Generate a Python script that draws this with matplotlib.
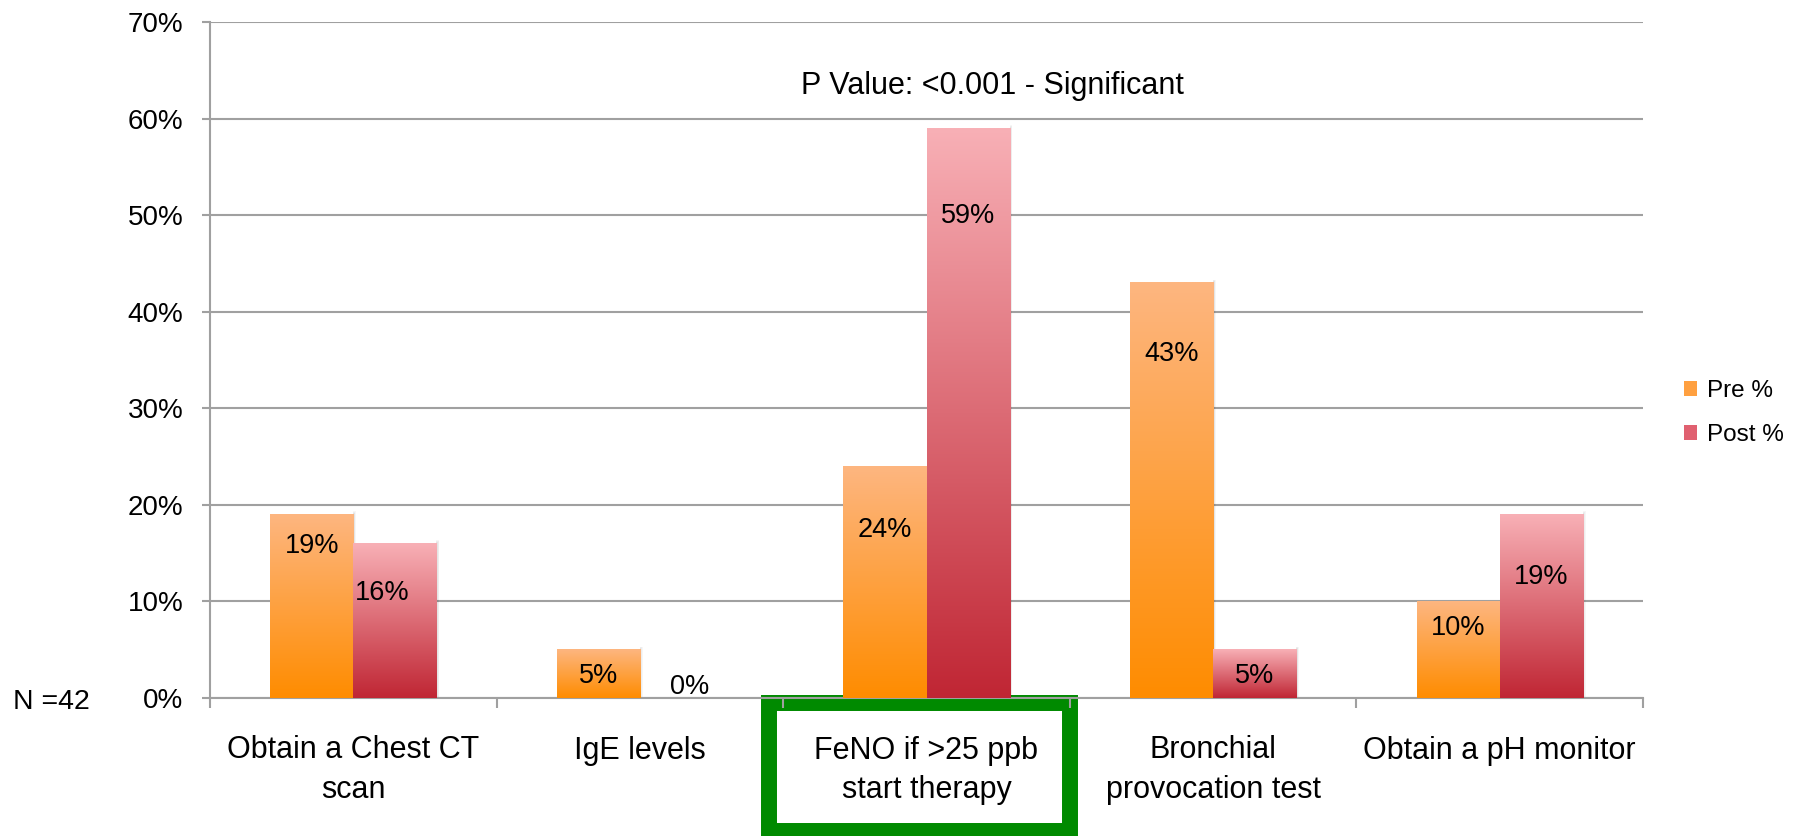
import numpy as np
import matplotlib.pyplot as plt
from matplotlib.patches import Rectangle, Patch
from matplotlib.colors import to_rgb

plt.rcParams['font.family'] = ['Liberation Sans', 'DejaVu Sans']

categories = ['Obtain a Chest CT\nscan', 'IgE levels', 'FeNO if >25 ppb\nstart therapy',
              'Bronchial\nprovocation test', 'Obtain a pH monitor']
pre = [19, 5, 24, 43, 10]
post = [16, 0, 59, 5, 19]
series_names = ['Pre %', 'Post %']
# where each value label sits (in % units) and its sideways nudge (category units)
pre_label_y = [15.75, 2.25, 17.35, 35.65, 7.2]
post_label_y = [10.85, 1.1, 49.95, 2.25, 12.55]
post_label_dx = [-0.044, 0.028, 0, 0, 0]

pre_colors = ('#fdb680', '#ff8c00')   # top, bottom
post_colors = ('#f8b0b6', '#c02634')
grid_c = '#a0a0a0'

fig = plt.figure(figsize=(18, 8.36), dpi=100)
ax = fig.add_axes([210 / 1800, 1 - 698 / 836, (1643 - 210) / 1800, (698 - 22) / 836])
ax.set_facecolor('none')

x = np.arange(len(categories))
w = 0.29


def gradient_bar(rect, top, bottom):
    x0, h, bw = rect.get_x(), rect.get_height(), rect.get_width()
    if h <= 0:
        return
    t = np.linspace(0, 1, 256)[:, None, None]
    img = np.array(to_rgb(bottom))[None, None, :] * (1 - t) + np.array(to_rgb(top))[None, None, :] * t
    # soft shadow to the right
    for i in range(1, 5):
        ax.add_patch(Rectangle((x0 + bw, 0), 0.0025 * i, h + 0.08 * i, color='k',
                               alpha=0.035, lw=0, zorder=2))
    ax.imshow(img, extent=[x0, x0 + bw, 0, h], origin='lower', aspect='auto', zorder=3,
              interpolation='bilinear')


bars_pre = ax.bar(x - w / 2, pre, w, color='none', zorder=3)
bars_post = ax.bar(x + w / 2, post, w, color='none', zorder=3)
for r in bars_pre:
    gradient_bar(r, *pre_colors)
for r in bars_post:
    gradient_bar(r, *post_colors)

for i in range(len(categories)):
    ax.text(x[i] - w / 2, pre_label_y[i], f'{pre[i]}%', ha='center', va='center',
            fontsize=19.5, zorder=5)
    ax.text(x[i] + w / 2 + post_label_dx[i], post_label_y[i], f'{post[i]}%', ha='center',
            va='center', fontsize=19.5, zorder=5)

ax.set_xlim(-0.5, len(categories) - 0.5)
ax.set_ylim(0, 70)
ax.set_yticks(range(0, 71, 10))
ax.set_yticklabels([f'{v}%' for v in range(0, 71, 10)])
ax.yaxis.grid(True, color=grid_c, lw=1.5)
ax.set_axisbelow(True)

ax.set_xticks(x)
ax.set_xticklabels(categories, fontsize=22, linespacing=1.4)
ax.set_xticks(np.arange(-0.5, len(categories)), minor=True)
ax.tick_params(axis='x', which='major', length=0, pad=27)
ax.tick_params(axis='x', which='minor', length=7, width=1.5, color=grid_c)
ax.tick_params(axis='y', length=6, width=1.5, color=grid_c, labelsize=20, pad=13)

for s in ['top', 'right']:
    ax.spines[s].set_visible(False)
for s in ['left', 'bottom']:
    ax.spines[s].set_color(grid_c)
    ax.spines[s].set_linewidth(1.5)

ax.text(0.5457, 63.35, 'P Value: <0.001 - Significant', transform=ax.get_yaxis_transform(),
        ha='center', va='center', fontsize=22)
fig.text(13 / 1800, 1 - 702 / 836, 'N =42', ha='left', va='center', fontsize=20.5)

handles = [Patch(facecolor='#ffa040', label=series_names[0]),
           Patch(facecolor='#e06070', label=series_names[1])]
fig.legend(handles=handles, loc='center left', bbox_to_anchor=(1662 / 1800, 1 - 413 / 836),
           frameon=False, fontsize=17.5, handlelength=0.55, handleheight=0.55,
           handletextpad=0.4, labelspacing=0.9)

# highlight box around the FeNO category label
fig.patches.append(Rectangle((769 / 1800, 5 / 836), 301 / 1800, 128 / 836,
                             transform=fig.transFigure, fill=False,
                             edgecolor='#008a00', lw=11.5, zorder=-1))

fig.savefig('out.png', dpi=100)
